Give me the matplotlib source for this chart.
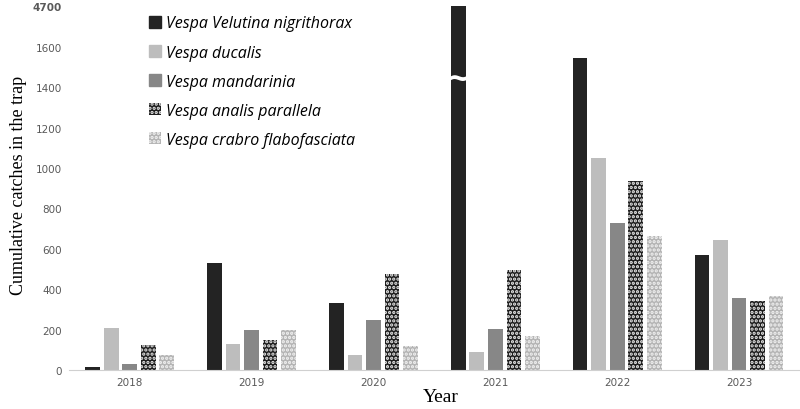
import numpy as np
import matplotlib.pyplot as plt
from matplotlib.patches import Patch

plt.rcParams['hatch.linewidth'] = 1.6

years = ['2018', '2019', '2020', '2021', '2022', '2023']
species = ['Vespa Velutina nigrithorax', 'Vespa ducalis', 'Vespa mandarinia',
           'Vespa analis parallela', 'Vespa crabro flabofasciata']
velutina = [17, 528, 333, 4700, 1543, 569]
ducalis = [208, 129, 74, 91, 1051, 642]
mandarinia = [30, 198, 247, 203, 729, 358]
analis = [124, 148, 473, 494, 937, 340]
crabro = [74, 198, 119, 167, 663, 368]
series = [velutina, ducalis, mandarinia, analis, crabro]

# broken axis: everything above this shows as the top tick
cap = 1800
break_at = 1445
yticks = [0, 200, 400, 600, 800, 1000, 1200, 1400, 1600, 1800]
ytick_labels = ['0', '200', '400', '600', '800', '1000', '1200', '1400', '1600', '4700']

styles = [
    dict(color='#232323'),
    dict(color='#bdbdbd'),
    dict(color='#878787'),
    dict(facecolor='#1e1e1e', edgecolor='#ececec', hatch='....', linewidth=0),
    dict(facecolor='#b4b4b4', edgecolor='#f2f2f2', hatch='....', linewidth=0),
]

fig = plt.figure(figsize=(8, 4.1), dpi=100)
ax = fig.add_axes([0.086, 0.095, 0.914, 0.905])

x = np.arange(len(years))
pitch = 0.152
width = 0.12
for i, vals in enumerate(series):
    h = [min(v, cap) for v in vals]
    ax.bar(x + (i - 2) * pitch, h, width, **styles[i])

# break mark on the tall bar
j = velutina.index(max(velutina))
ax.text(x[j] - 2 * pitch, break_at, '~', color='white', fontsize=22,
        fontweight='bold', ha='center', va='center')

ax.set_xlim(-0.5, len(years) - 0.5)
ax.set_ylim(0, 1836)
ax.set_xticks(x)
ax.set_xticklabels(years)
ax.set_yticks(yticks)
ax.set_yticklabels(ytick_labels)
ax.tick_params(axis='both', length=0, labelsize=7.5, colors='#595959', pad=5)
ax.get_yticklabels()[-1].set_fontweight('bold')
for s in ['top', 'right', 'left']:
    ax.spines[s].set_visible(False)
ax.spines['bottom'].set_color('#d0d0d0')

ax.set_ylabel('Cumulative catches in the trap', family='Liberation Serif', fontsize=13)
ax.set_xlabel('Year', family='Liberation Serif', fontsize=14, va='center')
ax.xaxis.set_label_coords(0.508, -0.072)

handles = [Patch(**styles[i]) for i in range(len(species))]
leg = fig.legend(handles, species, loc='upper left', bbox_to_anchor=(0.168, 0.995),
                 frameon=False, handlelength=0.75, handleheight=0.75,
                 labelspacing=0.82, handletextpad=0.3,
                 prop=dict(family='Open Sans', style='italic', size=11.5))

fig.savefig('out.png')
